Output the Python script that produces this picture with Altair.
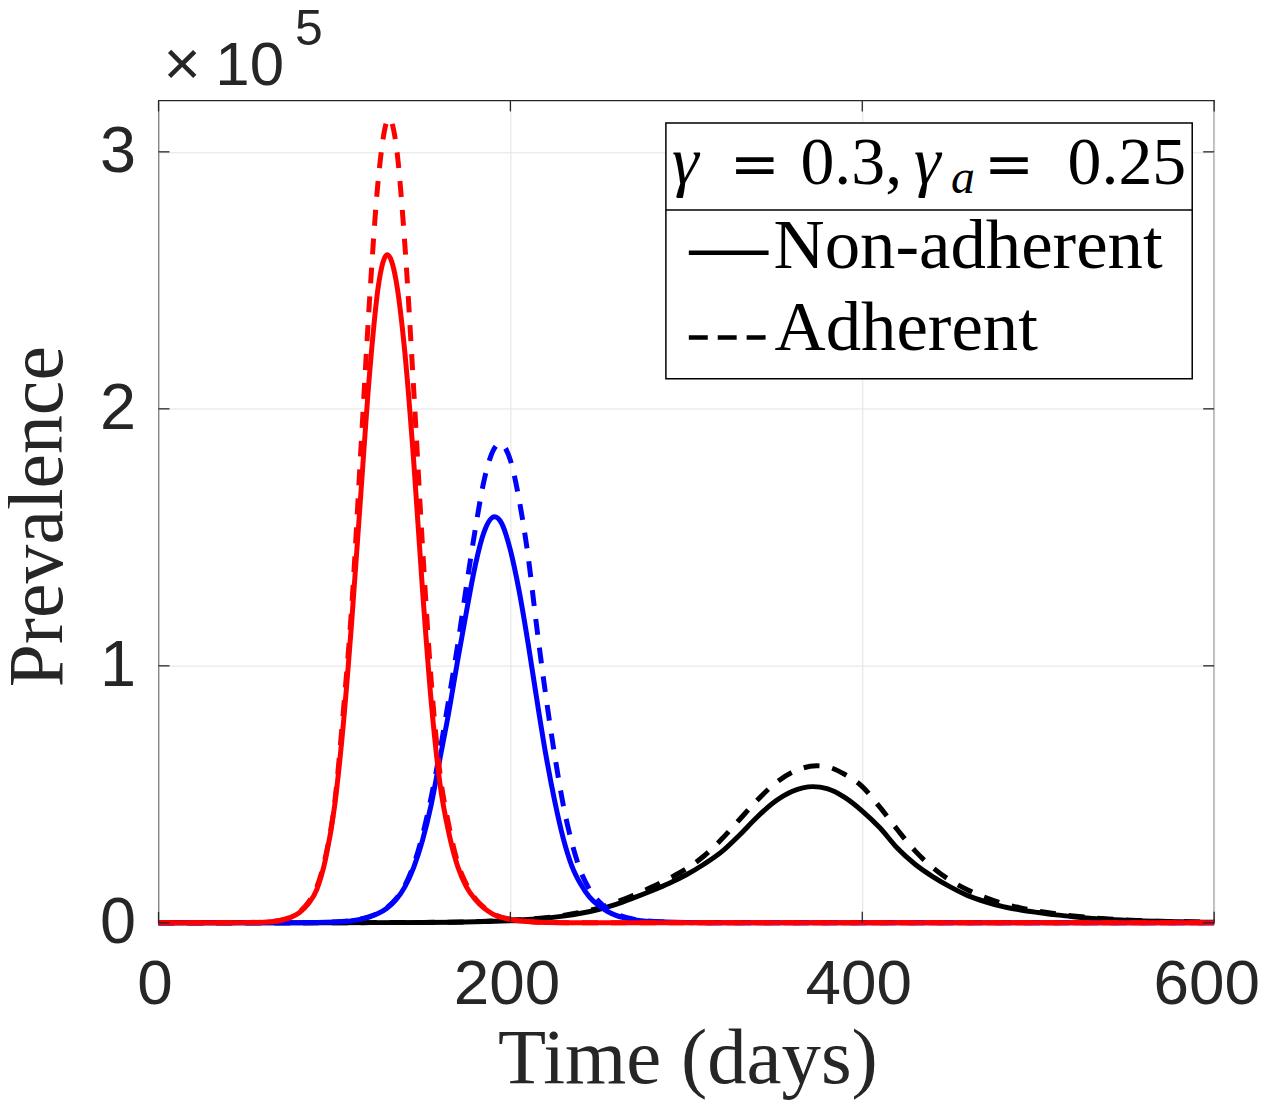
import altair as alt
import pandas as pd

# ---------------- data (prevalence in units of 1e5) ----------------
red_solid_days = [0, 40, 50, 60, 70, 75, 80, 85, 90, 95, 100, 105, 110, 115, 120, 125, 130,
                  135, 140, 145, 150, 155, 160, 165, 170, 175, 180, 185, 190, 200, 210, 220, 240, 600]
red_solid_vals = [0, 0.0005, 0.001, 0.0026, 0.010, 0.021, 0.039, 0.073, 0.13, 0.25, 0.45, 0.77, 1.19,
                  1.67, 2.14, 2.48, 2.60, 2.50, 2.22, 1.80, 1.30, 0.86, 0.54, 0.35, 0.22, 0.14, 0.091,
                  0.057, 0.034, 0.013, 0.005, 0.0013, 0, 0]

red_dash_days = [0, 40, 50, 60, 70, 75, 80, 85, 90, 95, 100, 105, 110, 115, 120, 125, 131,
                 135, 140, 145, 150, 155, 160, 165, 170, 175, 180, 185, 190, 200, 210, 220, 240, 600]
red_dash_vals = [0, 0.0006, 0.0012, 0.003, 0.011, 0.022, 0.042, 0.078, 0.14, 0.26, 0.46, 0.82, 1.25,
                 1.84, 2.43, 2.90, 3.13, 3.03, 2.64, 2.08, 1.47, 0.94, 0.58, 0.38, 0.235, 0.15, 0.095,
                 0.06, 0.036, 0.014, 0.005, 0.0015, 0, 0]

blue_solid_days = [0, 80, 100, 110, 120, 125, 130, 135, 140, 145, 150, 155, 160, 165, 170, 175, 180,
                   185, 191, 195, 200, 205, 210, 215, 220, 225, 230, 235, 240, 245, 250, 255, 260,
                   270, 280, 300, 320, 600]
blue_solid_vals = [0, 0.0005, 0.003, 0.008, 0.023, 0.037, 0.058, 0.09, 0.14, 0.215, 0.32, 0.46, 0.64,
                   0.82, 1.02, 1.21, 1.39, 1.52, 1.58, 1.555, 1.45, 1.29, 1.09, 0.87, 0.66, 0.48, 0.33,
                   0.22, 0.15, 0.10, 0.068, 0.045, 0.029, 0.012, 0.005, 0.001, 0, 0]

blue_dash_days = [0, 80, 100, 110, 120, 125, 130, 135, 140, 145, 150, 155, 160, 165, 170, 175, 180,
                  185, 190, 194, 200, 205, 210, 215, 220, 225, 230, 235, 240, 245, 250, 255, 260,
                  270, 280, 300, 320, 600]
blue_dash_vals = [0, 0.0006, 0.0035, 0.009, 0.024, 0.038, 0.06, 0.093, 0.145, 0.225, 0.34, 0.49, 0.67,
                  0.87, 1.08, 1.31, 1.53, 1.72, 1.835, 1.865, 1.80, 1.645, 1.43, 1.15, 0.89, 0.66, 0.46,
                  0.31, 0.20, 0.13, 0.085, 0.055, 0.035, 0.014, 0.006, 0.001, 0, 0]

black_solid_days = [0, 100, 150, 180, 200, 220, 230, 240, 250, 260, 270, 280, 290, 300, 310, 320, 330,
                    340, 350, 360, 372, 380, 390, 400, 410, 420, 430, 440, 450, 460, 470, 480, 490,
                    500, 510, 520, 540, 560, 580, 600]
black_solid_vals = [0, 0.0005, 0.0015, 0.004, 0.009, 0.018, 0.026, 0.037, 0.052, 0.072, 0.097, 0.124,
                    0.153, 0.187, 0.228, 0.276, 0.34, 0.41, 0.47, 0.511, 0.53, 0.522, 0.488, 0.435,
                    0.37, 0.29, 0.228, 0.18, 0.14, 0.106, 0.082, 0.063, 0.05, 0.04, 0.031, 0.024,
                    0.013, 0.0075, 0.004, 0.002]

black_dash_days = [0, 100, 150, 180, 200, 220, 230, 240, 250, 260, 270, 280, 290, 300, 310, 320, 330,
                   340, 350, 360, 374, 380, 390, 400, 410, 420, 430, 440, 450, 460, 470, 480, 490,
                   500, 510, 520, 540, 560, 580, 600]
black_dash_vals = [0, 0.0005, 0.0017, 0.0045, 0.01, 0.02, 0.029, 0.041, 0.057, 0.08, 0.107, 0.138,
                   0.172, 0.21, 0.26, 0.325, 0.40, 0.475, 0.54, 0.585, 0.611, 0.607, 0.578, 0.53,
                   0.45, 0.362, 0.28, 0.215, 0.165, 0.128, 0.098, 0.075, 0.058, 0.045, 0.035, 0.027,
                   0.015, 0.008, 0.0045, 0.002]

x_ticks = [0, 200, 400, 600]
y_ticks = [0, 1, 2, 3]

series = [
    ("black_dash", black_dash_days, black_dash_vals, "#000000", True),
    ("black_solid", black_solid_days, black_solid_vals, "#000000", False),
    ("blue_dash", blue_dash_days, blue_dash_vals, "#0000ff", True),
    ("blue_solid", blue_solid_days, blue_solid_vals, "#0000ff", False),
    ("red_dash", red_dash_days, red_dash_vals, "#ff0000", True),
    ("red_solid", red_solid_days, red_solid_vals, "#ff0000", False),
]

rows = []
for name, ds, vs, _, _ in series:
    for d, v in zip(ds, vs):
        rows.append({"series": name, "day": d, "prev": v})
df = pd.DataFrame(rows)

W, H = 1059, 825
AX = "#262626"

xscale = alt.Scale(domain=[0, 600], nice=False)
yscale = alt.Scale(domain=[0, 3.2], nice=False)

base = alt.Chart(df)

# axes / grid layer
axes_layer = base.mark_line(opacity=0).encode(
    x=alt.X("day:Q", scale=xscale,
            axis=alt.Axis(values=x_ticks, format="d", title="Time (days)", grid=True, domain=False,
                          tickSize=0, labelFlush=False,
                          labelOffset={"condition": {"test": "datum.value == 600", "value": -8},
                                       "value": -4},
                          labelFont="Liberation Sans", labelFontSize=64, labelColor=AX,
                          labelBaseline="alphabetic", labelPadding=81,
                          titleFont="Liberation Serif", titleFontSize=79, titleFontWeight="normal",
                          titleColor=AX, titleBaseline="alphabetic", titleY=160, titleX=W / 2 + 1,
                          titleAlign="center")),
    y=alt.Y("prev:Q", scale=yscale,
            axis=alt.Axis(values=y_ticks, format="d", title="Prevalence", grid=True, domain=False,
                          tickSize=0, labelFlush=False,
                          labelFont="Liberation Sans", labelFontSize=65, labelColor=AX,
                          labelPadding=23,
                          titleFont="Liberation Serif", titleFontSize=78, titleFontWeight="normal",
                          titleColor=AX, titleAngle=270, titleBaseline="alphabetic",
                          titleX=-97, titleY=417, titleAlign="center")),
)

line_layers = []
for name, ds, vs, color, dashed in series:
    kw = dict(color=color, strokeWidth=5, interpolate="monotone")
    if dashed:
        kw["strokeDash"] = [16, 13]
    line_layers.append(
        base.transform_filter(alt.datum.series == name).mark_line(**kw).encode(
            x=alt.X("day:Q", scale=xscale), y=alt.Y("prev:Q", scale=yscale)
        )
    )

# inward ticks (MATLAB style box ticks)
xt = alt.Chart(pd.DataFrame({"t": x_ticks}))
yt = alt.Chart(pd.DataFrame({"t": y_ticks}))
tick_kw = dict(color=AX, strokeWidth=1.3)
ticks = [
    xt.mark_rule(**tick_kw).encode(x=alt.X("t:Q", scale=xscale), y=alt.value(H), y2=alt.value(H - 11)),
    xt.mark_rule(**tick_kw).encode(x=alt.X("t:Q", scale=xscale), y=alt.value(0), y2=alt.value(11)),
    yt.mark_rule(**tick_kw).encode(y=alt.Y("t:Q", scale=yscale), x=alt.value(0), x2=alt.value(11)),
    yt.mark_rule(**tick_kw).encode(y=alt.Y("t:Q", scale=yscale), x=alt.value(W), x2=alt.value(W - 11)),
]

one = alt.Data(values=[{"k": 1}])


def txt(s, x, y, size, font="Liberation Serif", style="normal", color="#000000"):
    return alt.Chart(one).mark_text(text=s, font=font, fontSize=size, fontStyle=style, color=color,
                                    align="left", baseline="alphabetic").encode(
        x=alt.value(x), y=alt.value(y))


# legend
LX0, LX1, LY0, LY1 = 509, 1037, 22.7, 279.3
legend = [
    alt.Chart(one).mark_rect(fill="white", stroke="#000000", strokeWidth=1.5).encode(
        x=alt.value(LX0), x2=alt.value(LX1), y=alt.value(LY0), y2=alt.value(LY1)),
    alt.Chart(one).mark_rule(color="#000000", strokeWidth=1.5).encode(
        x=alt.value(LX0), x2=alt.value(LX1), y=alt.value(110), y2=alt.value(110)),
    alt.Chart(one).mark_rule(color="#000000", strokeWidth=4.5).encode(
        x=alt.value(532), x2=alt.value(612), y=alt.value(152.7), y2=alt.value(152.7)),
    alt.Chart(one).mark_rule(color="#000000", strokeWidth=4.5, strokeDash=[19, 10]).encode(
        x=alt.value(532), x2=alt.value(612), y=alt.value(237.7), y2=alt.value(237.7)),
    txt("Non-adherent", 617, 167.7, 71),
    txt("Adherent", 618, 250, 71),
    txt("γ", 515, 84.3, 68, style="italic"),
    txt("=", 573, 84.3, 60, font="DejaVu Serif"),
    txt("0.3,", 644, 84.3, 68),
    txt("γ", 758, 84.3, 68, style="italic"),
    txt("a", 795, 92.7, 48, style="italic"),
    txt("=", 828, 84.3, 60, font="DejaVu Serif"),
    txt("0.25", 912, 84.3, 68),
]

# exponent label
expo = [
    txt("×", 5, -16, 64, font="Liberation Sans", color=AX),
    txt("10", 57, -16, 62, font="Liberation Sans", color=AX),
    txt("5", 137, -56, 50, font="Liberation Sans", color=AX),
]

chart = alt.layer(axes_layer, *line_layers, *ticks, *legend, *expo).properties(
    width=W, height=H,
    autosize=alt.AutoSizeParams(type="none"),
    padding={"left": 151, "top": 91, "right": 47, "bottom": 178},
).configure_view(
    stroke=AX, strokeWidth=1.3
).configure_axis(
    gridColor="#e3e3e3", gridWidth=1
)

chart.save("out.html", embed_options={"renderer": "svg", "actions": False})
